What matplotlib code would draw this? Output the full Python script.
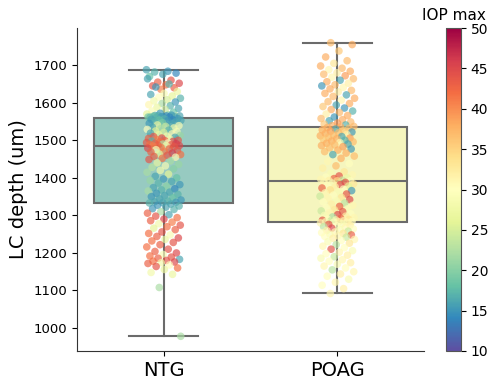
import numpy as np
import matplotlib
matplotlib.use("Agg")
import matplotlib.pyplot as plt

# Groups on the x axis
groups = ["NTG", "POAG"]

# LC depth (um) and maximum IOP for each eye, NTG group
ntg_depth = [
    1688, 1684, 1682, 1679, 1676, 1670,
    1660, 1655, 1652, 1648, 1645, 1640, 1636,
    1664, 1650, 1642,
    1630, 1625, 1622, 1618, 1615, 1612, 1608, 1605, 1602, 1598,
    1595, 1592, 1588, 1585, 1582, 1578, 1575, 1572, 1570, 1568,
    1566, 1564, 1562, 1561,
    1567, 1566, 1565, 1565, 1564, 1563, 1563, 1562, 1562, 1561,
    1558, 1557, 1556, 1555, 1554, 1553, 1552, 1550, 1549, 1547, 1545, 1543,
    1541, 1539, 1537, 1535, 1533, 1531, 1529, 1527, 1525, 1523,
    1521, 1519, 1517, 1515, 1513, 1511,
    1510, 1508, 1506, 1505, 1503, 1502, 1500, 1499, 1498, 1497,
    1496, 1494, 1493, 1492, 1491, 1490, 1489, 1488, 1487, 1486, 1486, 1485,
    1483, 1481, 1479, 1477, 1475, 1473, 1471, 1469, 1466, 1464,
    1462, 1460, 1457, 1455, 1452, 1449,
    1445, 1440, 1436, 1432, 1428, 1424, 1420, 1415, 1410,
    1404, 1400, 1397, 1393, 1390, 1386, 1382, 1378, 1374, 1371,
    1368, 1365, 1362, 1359, 1356, 1353, 1350, 1347, 1344, 1341,
    1338, 1336, 1335, 1334, 1333,
    1330, 1327, 1325, 1322, 1318, 1316,
    1310, 1306, 1302, 1298, 1294, 1290, 1286, 1282, 1278, 1274, 1270, 1266, 1262,
    1256, 1252, 1248, 1244, 1240, 1236, 1232, 1228, 1222, 1216, 1210,
    1204, 1200, 1196, 1192, 1189, 1186, 1183, 1180, 1178, 1176,
    1174, 1172, 1168, 1164, 1160, 1156,
    1148, 1143, 1108, 978,
]
ntg_iop = [
    16, 15, 17, 14, 16, 18,
    44, 43, 45, 42, 44, 43, 41,
    16, 17, 15,
    27, 29, 16, 26, 30, 17, 25, 28, 15, 22,
    31, 17, 27, 16, 24, 29, 18, 15, 26, 21,
    16, 28, 17, 15,
    15, 17, 16, 14, 18, 16, 15, 19, 14, 17,
    15, 17, 16, 14, 18, 16, 15, 17, 16, 19, 15, 16,
    27, 29, 24, 16, 28, 22, 30, 17, 26, 29,
    25, 16, 31, 27, 21, 28,
    44, 16, 45, 43, 28, 41, 44, 43, 17, 45,
    42, 44, 30, 43, 46, 22, 42, 44, 43, 45, 28, 41,
    44, 42, 45, 43, 29, 44, 41, 43, 46, 26,
    42, 44, 43, 31, 42, 44,
    22, 27, 21, 29, 23, 20, 28, 22, 26,
    16, 18, 15, 21, 16, 17, 15, 20, 16, 14,
    17, 22, 16, 15, 17, 16, 15, 18, 16, 15,
    17, 16, 15, 16, 17,
    16, 15, 17, 16, 15, 17,
    22, 43, 16, 44, 42, 45, 43, 41, 28, 44, 42, 26, 43,
    44, 42, 29, 43, 45, 27, 42, 44, 43, 42, 44,
    43, 45, 29, 42, 44, 43, 16, 44, 42, 45,
    28, 43, 30, 44, 42, 27,
    28, 27, 22, 22,
]

# LC depth (um) and maximum IOP for each eye, POAG group
poag_depth = [
    1760, 1755, 1738, 1722, 1712, 1705, 1698, 1692, 1688, 1684,
    1680, 1676, 1672, 1668, 1664, 1660, 1656, 1652, 1648, 1645,
    1641, 1637, 1633, 1629, 1625, 1621, 1617, 1612, 1607, 1603,
    1598, 1594, 1590, 1586, 1582, 1578, 1574, 1570, 1566, 1562,
    1558, 1555, 1552, 1549, 1546, 1543, 1541, 1539, 1537, 1536,
    1534, 1532, 1530, 1528, 1526, 1524, 1522, 1520, 1518, 1516,
    1514, 1512, 1510, 1508, 1506, 1504, 1502, 1500, 1498, 1496,
    1494, 1492, 1490, 1488, 1486, 1483, 1480, 1477, 1474,
    1470, 1466, 1462, 1458, 1452,
    1444, 1438, 1432, 1426,
    1416, 1412, 1408, 1405, 1402, 1400, 1398, 1396, 1394, 1393, 1392, 1392,
    1390, 1388, 1386, 1384, 1382, 1380, 1378, 1376, 1373, 1370,
    1368, 1366, 1363, 1360, 1357, 1354, 1351, 1348, 1345, 1342,
    1339, 1336, 1333, 1330, 1327, 1324, 1321, 1318, 1315, 1312,
    1310, 1307, 1304, 1302, 1300, 1298, 1296, 1294, 1292, 1290,
    1289, 1288, 1287, 1286, 1285, 1284, 1283, 1283, 1282, 1282,
    1280, 1278, 1276, 1274, 1272, 1270, 1268, 1266, 1264, 1262,
    1260, 1258, 1256, 1254, 1252, 1250, 1248, 1246, 1244, 1242,
    1239, 1236, 1233, 1230, 1226, 1222, 1218, 1214, 1210, 1206,
    1202, 1198, 1194, 1190, 1186, 1182, 1178, 1174, 1170, 1165,
    1160, 1155, 1150, 1144, 1138, 1130, 1122, 1114, 1105, 1092,
]
poag_iop = [
    37, 38, 36, 38, 37, 33, 38, 37, 31, 38,
    32, 37, 39, 31, 37, 16, 38, 32, 37, 15,
    31, 38, 37, 32, 38, 16, 37, 38, 31, 37,
    38, 16, 36, 15, 38, 17, 37, 32, 38, 15,
    37, 38, 16, 37, 39, 36, 17, 38, 37, 38,
    38, 37, 16, 38, 36, 39, 15, 37, 38, 32,
    37, 38, 16, 37, 39, 38, 36, 17, 38, 37,
    31, 38, 16, 37, 38, 39, 37, 15, 38,
    37, 38, 16, 37, 38,
    31, 30, 37, 32,
    33, 29, 31, 44, 30, 27, 43, 31, 24, 32, 30, 34,
    31, 44, 29, 33, 45, 30, 26, 32, 43, 30,
    34, 15, 29, 31, 44, 30, 24, 33, 31, 45,
    29, 30, 23, 32, 31, 43, 30, 29, 33, 24,
    44, 31, 30, 45, 29, 32, 22, 31, 43, 30,
    33, 29, 44, 31, 24, 30, 32, 29, 31, 30,
    31, 29, 44, 32, 30, 23, 31, 45, 30, 29,
    32, 24, 31, 30, 33, 29, 43, 31, 30, 24,
    32, 31, 30, 29, 33, 23, 31, 30, 44, 29,
    31, 30, 32, 24, 29, 31, 30, 32, 29, 31,
    30, 23, 31, 32, 30, 29, 31, 30, 32, 31,
]

box_colors = ["#97cac1", "#f5f5be"]
edge = "#6b6b6b"

fig = plt.figure(figsize=(4.92, 3.84), dpi=100)
ax = fig.add_axes([0.1565, 0.086, 0.7055, 0.841])
cax = fig.add_axes([0.9065, 0.086, 0.0305, 0.841])

depths = [np.array(ntg_depth, float), np.array(poag_depth, float)]
iops = [np.array(ntg_iop, float), np.array(poag_iop, float)]

bp = ax.boxplot(depths, positions=[0, 1], widths=0.8, whis=(0, 100),
                patch_artist=True, showfliers=False, manage_ticks=False,
                medianprops=dict(color=edge, lw=1.5),
                whiskerprops=dict(color=edge, lw=1.5),
                capprops=dict(color=edge, lw=1.5),
                boxprops=dict(edgecolor=edge, lw=1.5), zorder=2)
for patch, c in zip(bp["boxes"], box_colors):
    patch.set_facecolor(c)

# Strip points with an even, deterministic spread across the strip width
sc = None
for i, (d, v) in enumerate(zip(depths, iops)):
    k = np.arange(len(d))
    offs = ((k * 0.6180339887 + 0.31 * i) % 1.0 - 0.5) * 0.2
    sc = ax.scatter(i + offs, d, c=v, cmap="Spectral_r", vmin=10, vmax=50,
                    s=30, alpha=0.68, linewidths=0, zorder=3)

ax.set_xlim(-0.5, 1.5)
ax.set_xticks([0, 1])
ax.set_xticklabels(groups, fontsize=14)
ax.set_ylabel("LC depth (um)", fontsize=14)
ax.tick_params(axis="y", labelsize=9.5)
ax.spines["top"].set_visible(False)
ax.spines["right"].set_visible(False)
for s in ("left", "bottom"):
    ax.spines[s].set_color("#333333")

cb = fig.colorbar(sc, cax=cax)
cb.solids.set_alpha(1)
cb.set_ticks(np.arange(10, 51, 5))
cb.ax.tick_params(labelsize=10)
cb.outline.set_edgecolor("#555555")
cax.set_title("IOP max", fontsize=11, pad=6)

fig.savefig("out.png", dpi=100)
